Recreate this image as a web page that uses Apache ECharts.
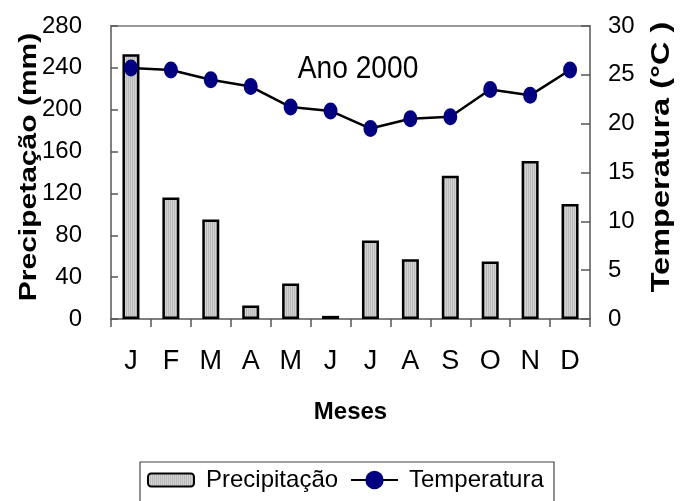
<!DOCTYPE html>
<html>
<head>
<meta charset="utf-8">
<script src="https://cdn.jsdelivr.net/npm/echarts@6/dist/echarts.min.js"></script>
<style>
  html, body { margin: 0; padding: 0; background: #fff; }
  #chart { width: 681px; height: 501px; }
</style>
</head>
<body>
<div id="chart"></div>
<script>
// Monthly rainfall (mm) and mean temperature (°C), year 2000
const months = ['J', 'F', 'M', 'A', 'M', 'J', 'J', 'A', 'S', 'O', 'N', 'D'];
const precipitation = [253, 116, 95, 13, 34, 3, 75, 57, 137, 55, 151, 110];
const temperature = [25.7, 25.5, 24.5, 23.8, 21.7, 21.3, 19.5, 20.5, 20.7, 23.5, 22.9, 25.5];
const precipTicks = { min: 0, max: 280, interval: 40 };
const tempTicks = { min: 0, max: 30, interval: 5 };

// Fine vertical hatching used to fill the rainfall bars
function stripePattern() {
  const c = document.createElement('canvas');
  c.width = 2; c.height = 2;
  const ctx = c.getContext('2d');
  ctx.fillStyle = '#bababa'; ctx.fillRect(0, 0, 1, 2);
  ctx.fillStyle = '#d2d2d2'; ctx.fillRect(1, 0, 1, 2);
  return c;
}

const FONT = "'Liberation Sans', Arial, sans-serif";
const NARROW = "'Liberation Sans Narrow', 'Arial Narrow', 'Liberation Sans', sans-serif";
const chart = echarts.init(document.getElementById('chart'), null, { renderer: 'canvas' });

chart.setOption({
  animation: false,
  backgroundColor: '#ffffff',
  textStyle: { fontFamily: FONT, color: '#000' },
  grid: {
    left: 111, right: 91, top: 26, bottom: 182,
    show: true, borderColor: '#9a9a9a', borderWidth: 2, backgroundColor: 'transparent'
  },
  xAxis: {
    type: 'category',
    data: months,
    name: 'Meses',
    nameLocation: 'middle',
    nameGap: 93,
    nameTextStyle: { fontFamily: FONT, fontSize: 24, fontWeight: 'bold', color: '#000', verticalAlign: 'middle' },
    axisLine: { lineStyle: { color: '#777', width: 1.5 } },
    axisTick: { show: true, inside: false, length: 8, lineStyle: { color: '#555', width: 1.5 } },
    axisLabel: { fontFamily: FONT, fontSize: 27, color: '#000', margin: 43, verticalAlign: 'middle' },
    splitLine: { show: false }
  },
  yAxis: [
    {
      type: 'value',
      min: precipTicks.min, max: precipTicks.max, interval: precipTicks.interval,
      axisLine: { show: true, lineStyle: { color: '#777', width: 1.5 } },
      axisTick: { show: true, inside: true, length: 7, lineStyle: { color: '#555', width: 1.5 } },
      axisLabel: { fontFamily: NARROW, fontSize: 24, color: '#000', margin: 29 },
      splitLine: { show: false }
    },
    {
      type: 'value',
      min: tempTicks.min, max: tempTicks.max, interval: tempTicks.interval,
      position: 'right',
      axisLine: { show: true, lineStyle: { color: '#777', width: 1.5 } },
      axisTick: { show: true, inside: true, length: 9, lineStyle: { color: '#555', width: 1.5 } },
      axisLabel: { fontFamily: FONT, fontSize: 24, color: '#000', margin: 18 },
      splitLine: { show: false }
    }
  ],
  legend: [
    {
      data: ['Precipitação'],
      left: 147, top: 467, padding: 0,
      itemWidth: 46, itemHeight: 13,
      textStyle: { fontFamily: FONT, fontSize: 24, color: '#000', lineHeight: 26, padding: [0, 0, 0, 7] }
    },
    {
      data: ['Temperatura'],
      left: 350, top: 467, padding: 0,
      itemWidth: 47, itemHeight: 23,
      textStyle: { fontFamily: FONT, fontSize: 24, color: '#000', lineHeight: 26, padding: [0, 0, 0, 6] }
    }
  ],
  graphic: [
    {
      type: 'text', x: 358, y: 69, scaleX: 0.88,
      style: { text: 'Ano 2000', font: "32px " + FONT, fill: '#000', textAlign: 'center', textVerticalAlign: 'middle' }
    },
    {
      type: 'text', x: 29, y: 167, rotation: Math.PI / 2, scaleX: 1.25,
      style: { text: 'Precipetação (mm)', font: "bold 24px " + FONT, fill: '#000', textAlign: 'center', textVerticalAlign: 'middle' }
    },
    {
      type: 'text', x: 662, y: 157, rotation: Math.PI / 2, scaleX: 1.3,
      style: { text: 'Temperatura (°C )', font: "bold 25px " + FONT, fill: '#000', textAlign: 'center', textVerticalAlign: 'middle' }
    },
    {
      type: 'rect', shape: { x: 140, y: 462, width: 414, height: 50 },
      style: { fill: 'transparent', stroke: '#444', lineWidth: 1.2 }
    }
  ],
  series: [
    {
      name: 'Precipitação',
      type: 'bar',
      yAxisIndex: 0,
      data: precipitation,
      barWidth: 17,
      itemStyle: { color: { image: stripePattern(), repeat: 'repeat' }, borderColor: '#000', borderWidth: 2.5 }
    },
    {
      name: 'Temperatura',
      type: 'line',
      yAxisIndex: 1,
      data: temperature,
      symbol: 'circle',
      symbolSize: [14, 17],
      lineStyle: { color: '#000', width: 2.5 },
      itemStyle: { color: '#000080', borderWidth: 0 },
      z: 5
    }
  ]
});
</script>
</body>
</html>
